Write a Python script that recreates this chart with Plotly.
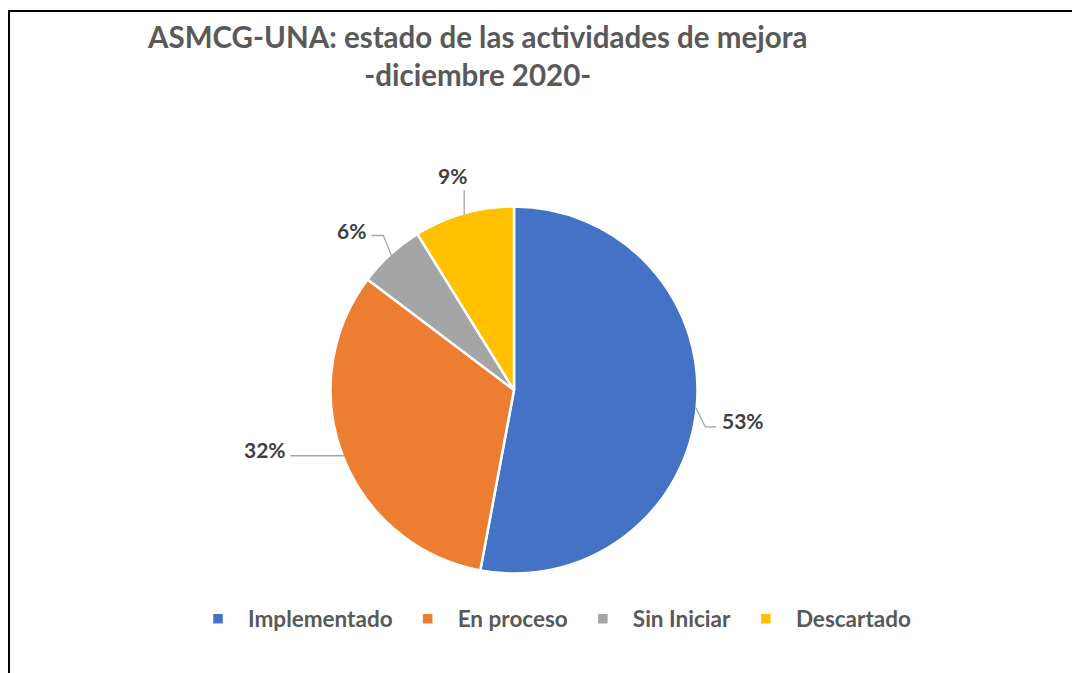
import math
import plotly.graph_objects as go

labels = ["Implementado", "En proceso", "Sin Iniciar", "Descartado"]
values = [18, 11, 2, 3]
colors = ["#4472C4", "#ED7D31", "#A5A5A5", "#FFC000"]
title_lines = ["ASMCG-UNA: estado de las actividades de mejora", "-diciembre 2020-"]

W, H = 1080, 673
OFF = 8  # page body margin
CX, CY, R = 514, 390, 183.5  # pie centre / radius in screen px (layout)

# leader geometry offsets (px) relative to slice edge at mid-angle
leader_pts = [
    [(0, 0), (10, 20), (21, 20)],
    [(0, 0), (-54, 0)],
    [(0, 0), (-8, -20), (-20, -20)],
    [(0, 0), (0, -25)],
]
text_off = [(48, 14), (-79, -6), (-40, -25), (-12, -39)]


def px(x):
    return (x - OFF) / W


def py(y):
    return 1 - (y - OFF) / H


fig = go.Figure(go.Pie(
    labels=labels, values=values, sort=False, direction="clockwise", rotation=0,
    marker=dict(colors=colors, line=dict(color="white", width=2.5)),
    textinfo="none", hoverinfo="label+percent",
    domain=dict(x=[px(CX - R), px(CX + R)], y=[py(CY + R), py(CY - R)]),
))

total = sum(values)
cum = 0
shapes = []
annotations = []
for i, v in enumerate(values):
    mid = (cum + v / 2) / total * 2 * math.pi
    cum += v
    ex = CX + 182 * math.sin(mid)
    ey = CY - 182 * math.cos(mid)
    pts = leader_pts[i]
    path = " ".join(("M" if j == 0 else "L") + f" {px(ex + dx):.5f},{py(ey + dy):.5f}"
                    for j, (dx, dy) in enumerate(pts))
    shapes.append(dict(type="path", xref="paper", yref="paper", path=path,
                       line=dict(color="#A6A6A6", width=1.3)))
    pct = round(v / total * 100)
    tx, ty = text_off[i]
    annotations.append(dict(x=px(ex + tx), y=py(ey + ty), xref="paper", yref="paper",
                            text=f"<b>{pct}%</b>", showarrow=False,
                            xanchor="center", yanchor="middle",
                            font=dict(family="Lato", size=21, color="#404040")))

# chart border (left/top visible)
shapes.append(dict(type="rect", xref="paper", yref="paper",
                   x0=px(9), x1=1.05, y0=-0.05, y1=py(11),
                   line=dict(color="black", width=2)))

annotations.append(dict(x=px(477), y=py(56), xref="paper", yref="paper",
                        text="<b>" + title_lines[0] + "</b><br><b>" + title_lines[1] + "</b>",
                        showarrow=False, xanchor="center", yanchor="middle",
                        font=dict(family="Lato", size=29.5, color="#595959")))

fig.update_layout(
    width=W, height=H, margin=dict(l=0, r=0, t=0, b=0),
    paper_bgcolor="white", plot_bgcolor="white",
    shapes=shapes, annotations=annotations,
    showlegend=True,
    legend=dict(orientation="h", x=px(552), xanchor="center", y=py(619), yanchor="middle",
                font=dict(family="Lato", size=22.5, color="#595959", weight="bold"),
                itemwidth=50,
                traceorder="normal"),
)
fig.write_html("out.html")
